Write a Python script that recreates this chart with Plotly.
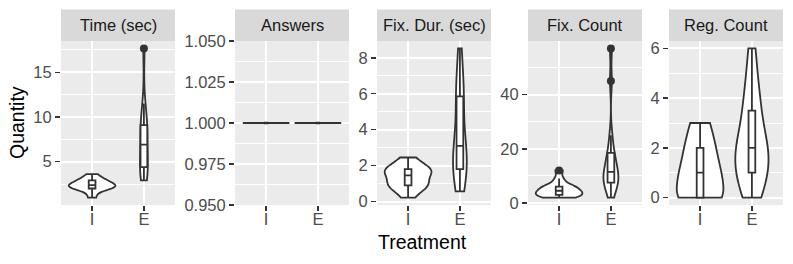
import numpy as np
import plotly.graph_objects as go

# ---------------- data ----------------
facets = ["Time (sec)", "Answers", "Fix. Dur. (sec)", "Fix. Count", "Reg. Count"]
groups = ["I", "E"]

time_I = [0.99, 1.6, 1.95, 2.0, 2.1, 2.25, 2.35, 2.4, 2.55, 2.6, 2.9, 2.95, 3.2, 3.6]
time_E = [2.9, 3.3, 3.8, 4.4, 4.6, 5.2, 6.5, 7.3, 8.2, 8.9, 9.1, 9.8, 11.5, 17.67]

answers_I = [1, 1, 1, 1, 1, 1, 1, 1, 1, 1, 1, 1, 1, 1]
answers_E = [1, 1, 1, 1, 1, 1, 1, 1, 1, 1, 1, 1, 1, 1]

fixdur_I = [0.22, 0.6, 0.85, 0.9, 0.95, 1.1, 1.4, 1.5, 1.65, 1.75, 1.8, 1.9, 2.1, 2.45]
fixdur_E = [0.56, 1.2, 1.7, 1.8, 2.0, 2.4, 2.9, 3.3, 3.8, 5.3, 5.85, 6.1, 7.2, 8.52]

fixcount_I = [2, 2, 3, 3, 3, 4, 4, 5, 5, 6, 6, 7, 9, 12]
fixcount_E = [2, 5, 7, 7, 8, 9, 10, 11, 12, 14, 16, 17, 20, 25, 45, 57]

regcount_I = [0, 0, 0, 0, 0, 1, 1, 1, 1, 2, 2, 2, 3, 3]
regcount_E = [0, 0, 1, 1, 1, 1, 2, 2, 2, 2, 3, 3, 4, 4, 5, 6]

y_ticks = [
    [5, 10, 15],
    [0.95, 0.975, 1.0, 1.025, 1.05],
    [0, 2, 4, 6, 8],
    [0, 20, 40],
    [0, 2, 4, 6],
]
y_ticktext = [
    ["5", "10", "15"],
    ["0.950", "0.975", "1.000", "1.025", "1.050"],
    ["0", "2", "4", "6", "8"],
    ["0", "20", "40"],
    ["0", "2", "4", "6"],
]

series = [
    (time_I, time_E),
    (answers_I, answers_E),
    (fixdur_I, fixdur_E),
    (fixcount_I, fixcount_E),
    (regcount_I, regcount_E),
]

# ---------------- layout geometry ----------------
W, H = 793, 264
panel_x = [(61, 175), (235, 349), (377, 491), (528, 642), (669, 783)]
panel_top, panel_bot = 41, 205
strip_top = 9.5
VIOLIN_W = 0.9      # max violin width (category units)
BOX_W = 0.13        # box width (category units)

def px_x(p):
    return p / W

def px_y(p):
    return 1 - p / H

INK = "#333333"

def nrd0(v):
    v = np.asarray(v, float)
    sd = v.std(ddof=1)
    q1, q3 = np.percentile(v, [25, 75])
    lo = min(sd, (q3 - q1) / 1.34)
    if lo <= 0:
        lo = sd if sd > 0 else 1.0
    return 0.9 * lo * len(v) ** (-0.2)

def max_density(v, bw):
    v = np.asarray(v, float)
    grid = np.linspace(v.min(), v.max(), 512)
    d = np.exp(-0.5 * ((grid[:, None] - v[None, :]) / bw) ** 2).sum(1)
    d /= len(v) * bw * np.sqrt(2 * np.pi)
    return d.max()

fig = go.Figure()
layout = dict(
    width=W, height=H,
    margin=dict(l=0, r=0, t=0, b=0, pad=0, autoexpand=False),
    paper_bgcolor="white",
    plot_bgcolor="#EBEBEB",
    font=dict(family="Liberation Sans, Arial, sans-serif", color="#4D4D4D"),
    showlegend=False,
    violinmode="overlay",
    boxmode="overlay",
    shapes=[], annotations=[],
)

for i, (name, (vi, ve)) in enumerate(zip(facets, series)):
    k = "" if i == 0 else str(i + 1)
    xa, ya = "x" + k, "y" + k
    allv = np.array(vi + ve, float)
    lo, hi = allv.min(), allv.max()
    span = hi - lo
    if span == 0:
        rng = [lo * 0.95, hi * 1.05]
    else:
        rng = [lo - 0.05 * span, hi + 0.05 * span]

    # ggplot "area" scaling: width proportional to density / panel max density
    bws, peaks = [], []
    for vals in (vi, ve):
        if np.std(vals) > 0:
            bw = nrd0(vals)
            bws.append(bw)
            peaks.append(max_density(vals, bw))
        else:
            bws.append(None)
            peaks.append(None)
    pmax = max([p for p in peaks if p is not None], default=None)

    for g, vals, bw, pk in zip(groups, (vi, ve), bws, peaks):
        w = VIOLIN_W if (pk is None or pmax is None) else VIOLIN_W * pk / pmax
        fig.add_trace(go.Violin(
            x=[g] * len(vals), y=vals, xaxis=xa, yaxis=ya,
            name=g, scalegroup="sg%d%s" % (i, g), scalemode="width",
            spanmode="hard", width=w, bandwidth=bw,
            fillcolor="white", line=dict(color=INK, width=1.8),
            box=dict(visible=True, width=min(1.0, BOX_W / w), fillcolor="white",
                     line=dict(color=INK, width=1.8)),
            meanline=dict(visible=False),
            points="outliers", pointpos=0, jitter=0,
            marker=dict(color=INK, size=8, line=dict(width=0)),
            hoverinfo="skip", showlegend=False,
        ))
        if pk is None:
            # degenerate (constant) sample: ggplot still draws a flat box
            fig.add_trace(go.Box(
                x=[g] * len(vals), y=vals, xaxis=xa, yaxis=ya,
                width=BOX_W * 0.6, fillcolor="white",
                line=dict(color=INK, width=2.5), boxpoints=False,
                hoverinfo="skip", showlegend=False,
            ))
    x0, x1 = panel_x[i]
    layout["xaxis" + k] = dict(
        domain=[px_x(x0), px_x(x1)], anchor=ya, automargin=False,
        type="category", categoryorder="array", categoryarray=groups,
        range=[-0.6, 1.6], showgrid=True, gridcolor="white", gridwidth=2,
        ticks="outside", ticklen=5, tickwidth=1.5, tickcolor=INK,
        ticklabelstandoff=-6,
        tickfont=dict(size=16.5, color="#4D4D4D"), zeroline=False, showline=False,
        fixedrange=True,
    )
    layout["yaxis" + k] = dict(
        domain=[px_y(panel_bot), px_y(panel_top)], anchor=xa, automargin=False,
        range=rng, tickmode="array", tickvals=y_ticks[i], ticktext=y_ticktext[i],
        showgrid=True, gridcolor="white", gridwidth=2,
        minor=dict(showgrid=True, gridcolor="white", gridwidth=1,
                   tickmode="linear", tick0=y_ticks[i][0],
                   dtick=(y_ticks[i][1] - y_ticks[i][0]) / 2, ticks=""),
        ticks="outside", ticklen=5, tickwidth=1.5, tickcolor=INK,
        tickfont=dict(size=16.5, color="#4D4D4D"), zeroline=False, showline=False,
        fixedrange=True,
    )
    layout["shapes"].append(dict(
        type="rect", xref="paper", yref="paper",
        x0=px_x(x0), x1=px_x(x1), y0=px_y(panel_top), y1=px_y(strip_top),
        fillcolor="#D9D9D9", line=dict(width=0), layer="below",
    ))
    layout["annotations"].append(dict(
        text=name, xref="paper", yref="paper", showarrow=False,
        x=px_x((x0 + x1) / 2), y=px_y((strip_top + panel_top) / 2),
        xanchor="center", yanchor="middle",
        font=dict(size=16.5, color="#1A1A1A"),
    ))

layout["annotations"].append(dict(
    text="Treatment", xref="paper", yref="paper", showarrow=False,
    x=px_x((panel_x[0][0] + panel_x[-1][1]) / 2), y=px_y(242),
    xanchor="center", yanchor="middle", font=dict(size=19.5, color="black"),
))
layout["annotations"].append(dict(
    text="Quantity", xref="paper", yref="paper", showarrow=False,
    x=px_x(17), y=px_y((panel_top + panel_bot) / 2), textangle=-90,
    xanchor="center", yanchor="middle", font=dict(size=19.5, color="black"),
))

fig.update_layout(**layout)
fig.write_html(
    "out.html",
    config={"displayModeBar": False, "staticPlot": True},
    post_script="document.body.style.margin='0px';document.body.style.overflow='hidden';",
)
